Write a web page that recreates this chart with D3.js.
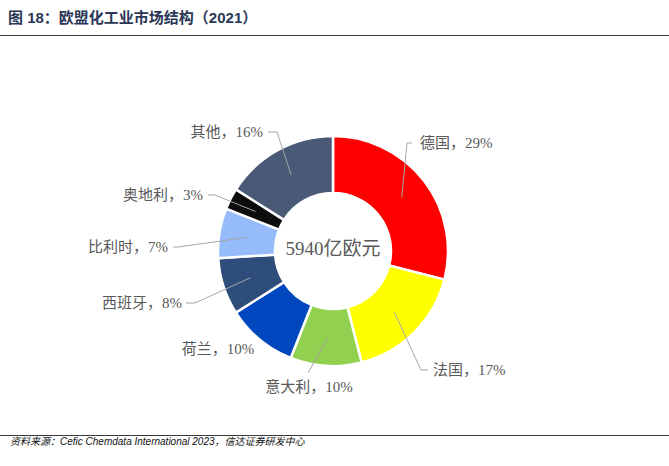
<!DOCTYPE html>
<html>
<head>
<meta charset="utf-8">
<script src="https://cdn.jsdelivr.net/npm/d3@7"></script>
<style>
  body { margin: 0; background: #fff; }
  svg { display: block; }
</style>
</head>
<body>
<div id="chart"></div>
<script>
// 欧盟化工业市场结构（2021）
var countries = ["德国", "法国", "意大利", "荷兰", "西班牙", "比利时", "奥地利", "其他"];
var shares = [29, 17, 10, 10, 8, 7, 3, 16];
var colors = ["#ff0000", "#ffff00", "#92d050", "#0047bf", "#2f4d7b", "#95bbfb", "#0d0d0d", "#4a5a76"];
var totalLabel = "5940亿欧元";

// label placement, relative to the donut centre (dragged by hand in the original)
var labelLayout = [
  {anchor: "start",  x: 87,   y: -108, line: [[74, -108], [79, -108]]},
  {anchor: "start",  x: 100,  y: 119,  line: [[88, 119], [95, 119]]},
  {anchor: "middle", x: -24,  y: 136,  line: [[-25, 122]]},
  {anchor: "middle", x: -115, y: 98,   line: null},
  {anchor: "end",    x: -151, y: 52,   line: [[-138, 52], [-147, 52]]},
  {anchor: "end",    x: -165, y: -4,   line: [[-155, -4], [-160, -4]]},
  {anchor: "end",    x: -130, y: -56,  line: [[-118, -56], [-125, -56]]},
  {anchor: "end",    x: -70,  y: -119, line: [[-56, -119], [-65, -119]]}
];

var width = 669, height = 466;
var cx = 333, cy = 251;
var outerR = 115, innerR = 58, leaderR = 87;

var svg = d3.select("#chart")
  .append("svg")
  .attr("width", width)
  .attr("height", height);

// title and rules
svg.append("text")
  .attr("x", 8)
  .attr("y", 23)
  .style("font-family", "'Liberation Sans', 'Noto Sans CJK SC', sans-serif")
  .style("font-size", "15px")
  .style("font-weight", "bold")
  .style("fill", "#2a3756")
  .text("图 18：欧盟化工业市场结构（2021）");

svg.append("line")
  .attr("x1", 0).attr("x2", width)
  .attr("y1", 35.5).attr("y2", 35.5)
  .style("stroke", "#3a3a3a")
  .style("stroke-width", 1.2);

svg.append("line")
  .attr("x1", 0).attr("x2", width)
  .attr("y1", 435.5).attr("y2", 435.5)
  .style("stroke", "#3a3a3a")
  .style("stroke-width", 1.2);

svg.append("text")
  .attr("x", 10)
  .attr("y", 445)
  .style("font-family", "'Liberation Sans', 'Noto Sans CJK SC', sans-serif")
  .style("font-size", "10px")
  .style("font-style", "italic")
  .style("fill", "#111")
  .text("资料来源：Cefic Chemdata International 2023，信达证券研发中心");

// donut
var data = countries.map(function(c, i) {
  return {name: c, value: shares[i], color: colors[i], layout: labelLayout[i]};
});

var pie = d3.pie()
  .value(function(d) { return d.value; })
  .sort(null);

var arc = d3.arc()
  .innerRadius(innerR)
  .outerRadius(outerR);

var g = svg.append("g")
  .attr("transform", "translate(" + cx + "," + cy + ")");

var arcs = pie(data);

g.selectAll("path.slice")
  .data(arcs)
  .enter()
  .append("path")
  .attr("class", "slice")
  .attr("d", arc)
  .style("fill", function(d) { return d.data.color; })
  .style("stroke", "#fff")
  .style("stroke-width", 2.5);

// leader lines
g.selectAll("polyline.leader")
  .data(arcs.filter(function(d) { return d.data.layout.line; }))
  .enter()
  .append("polyline")
  .attr("class", "leader")
  .attr("points", function(d) {
    var a = (d.startAngle + d.endAngle) / 2;
    var start = [leaderR * Math.sin(a), -leaderR * Math.cos(a)];
    return [start].concat(d.data.layout.line).map(function(p) { return p.join(","); }).join(" ");
  })
  .style("fill", "none")
  .style("stroke", "#a6a6a6")
  .style("stroke-width", 1);

// labels
g.selectAll("text.label")
  .data(arcs)
  .enter()
  .append("text")
  .attr("class", "label")
  .attr("x", function(d) { return d.data.layout.x; })
  .attr("y", function(d) { return d.data.layout.y; })
  .attr("dy", "0.35em")
  .attr("text-anchor", function(d) { return d.data.layout.anchor; })
  .style("font-family", "'Liberation Serif', 'Noto Sans CJK SC', serif")
  .style("font-size", "15px")
  .style("fill", "#595959")
  .text(function(d) { return d.data.name + "，" + d.data.value + "%"; });

g.append("text")
  .attr("x", 0)
  .attr("y", -3)
  .attr("dy", "0.35em")
  .attr("text-anchor", "middle")
  .style("font-family", "'Liberation Serif', 'Noto Sans CJK SC', serif")
  .style("font-size", "19px")
  .style("fill", "#595959")
  .text(totalLabel);
</script>
</body>
</html>
